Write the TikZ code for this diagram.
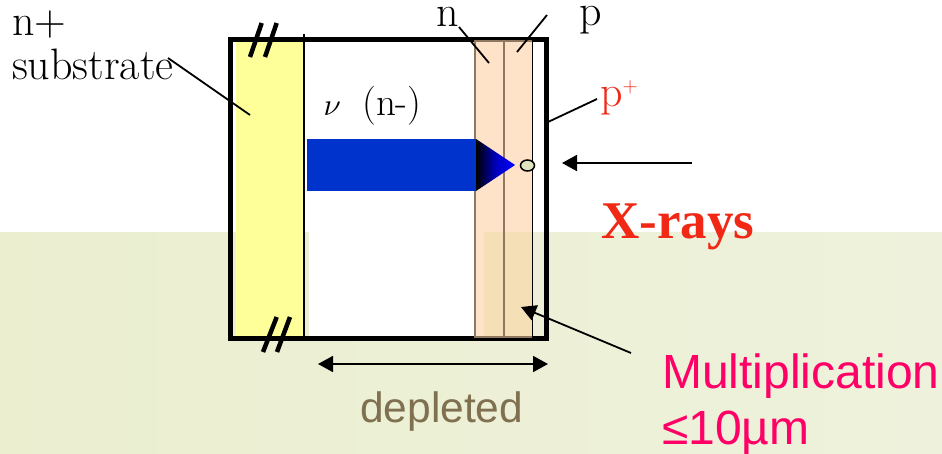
\documentclass[tikz,border=0pt]{standalone}
\usepackage{fontspec}
\usepackage{xcolor}
\usetikzlibrary{arrows.meta, shapes.geometric}
\newfontfamily\labelsans{Liberation Sans}
\newfontfamily\labelserif{Liberation Serif}
\definecolor{bgoliveb}{HTML}{EBEECF}
\definecolor{bgolivec}{HTML}{EEF2DC}
\definecolor{subyellow}{HTML}{FFFF99}
\definecolor{layerpeach}{HTML}{FFE3C8}
\definecolor{layertan}{HTML}{F4DFB6}
\definecolor{layerbrown}{HTML}{8F7860}
\definecolor{driftblue}{HTML}{0033CC}
\definecolor{xred}{HTML}{F02815}
\definecolor{multpink}{HTML}{FF0066}
\definecolor{depbrown}{HTML}{7F7050}
\definecolor{dotfill}{HTML}{E0E4C0}
\tikzset{
  serlabel/.style={anchor=base west, inner sep=0pt, font=\fontsize{44}{52}\selectfont},
  leader/.style={black, line width=1.8pt},
  tiparrow/.style={black, line width=1.8pt, -{Triangle[length=15pt,width=16pt]}},
  slash/.style={black, line width=4.5pt},
  layerline/.style={layerbrown, line width=2pt}
}
\begin{document}
\begin{tikzpicture}[x=1pt, y=-1pt]
  \useasboundingbox (0,0) rectangle (942,453);
  % background
  \fill[white] (0,0) rectangle (942,453);
  \shade[left color=bgoliveb, right color=bgolivec] (0,232) rectangle (942,453);
  % layers
  \fill[white] (303,38) rectangle (474,232);
  \fill[white] (309,232) rectangle (484,338);
  \fill[subyellow] (236,40) rectangle (303,338);
  \fill[layerpeach] (474,39) rectangle (532,338);
  \fill[layertan] (484,232) rectangle (532,338);
  \draw[layerline] (474.5,39) -- (474.5,338);
  \draw[layerline] (503.5,39) -- (503.5,338);
  \draw[black, line width=1.5pt] (532.5,39) -- (532.5,338);
  \draw[black, line width=2pt] (303.5,34) -- (303.5,336);
  % drift arrow
  \fill[driftblue] (307,139) rectangle (476,191);
  \shade[left color=black, right color=blue, middle color=blue!75!black] (476,139) -- (515,165) -- (476,191) -- cycle;
  \node[draw=black, fill=dotfill, line width=1.5pt, ellipse, minimum width=14pt, minimum height=11pt, inner sep=0pt] (hole) at (527.5,165.5) {};
  % frame
  \draw[black, line width=5pt] (230.5,39.5) rectangle (546.5,338.5);
  \draw[layerbrown, line width=2.5pt] (474,40.8) -- (532,40.8) (474,337) -- (532,337);
  % break marks
  \draw[slash] (261.7,23) -- (250,57);
  \draw[slash] (276.7,23) -- (265,57);
  \draw[slash] (276.7,317) -- (263,352);
  \draw[slash] (290,317) -- (277,352);
  % labels
  \node[serlabel] (nplus) at (12,35) {n+};
  \node[serlabel] (substrate) at (12,79) {substrate};
  \node[serlabel] (nlayer) at (436,26) {n};
  \node[serlabel] (player) at (579,25) {p};
  \node[serlabel, text=xred] (pplus) at (600,106) {p\raisebox{14pt}{\fontsize{21}{24}\selectfont +}};
  \node[anchor=base west, inner sep=0pt, scale=3.1] (nu) at (323,115) {$\nu$};
  \node[anchor=base west, inner sep=0pt, font=\fontsize{39}{44}\selectfont] (nminus) at (362,115) {(n-)};
  \node[anchor=base west, inner sep=0pt, text=xred, font=\labelserif\bfseries\fontsize{53}{60}\selectfont] (xrays) at (601,238) {X-rays};
  \node[anchor=base west, inner sep=0pt, text=depbrown, font=\labelsans\fontsize{42.5}{48}\selectfont] (depleted) at (360,422) {depleted};
  \node[anchor=base west, inner sep=0pt, text=multpink, font=\labelsans\fontsize{48}{54}\selectfont] (mult) at (662,388) {Multiplication};
  \node[anchor=base west, inner sep=0pt, text=multpink, font=\labelsans\fontsize{48}{54}\selectfont] (micron) at (662,444) {≤10µm};
  % leaders
  \coordinate (subend) at (250,115);
  \coordinate (subtop) at (168,58);
  \coordinate (ntop) at (459,27);
  \coordinate (nend) at (489,63);
  \coordinate (ptop) at (547,15);
  \coordinate (pend) at (517,52);
  \coordinate (ppfrom) at (597,99);
  \coordinate (ppend) at (548,122);
  \coordinate (xfrom) at (692,163);
  \coordinate (xend) at (562,163);
  \coordinate (mfrom) at (631,353);
  \coordinate (mend) at (521,307);
  \coordinate (depl) at (318,364);
  \coordinate (depr) at (548,364);
  \draw[leader] (subtop) -- (subend);
  \draw[leader] (ntop) -- (nend);
  \draw[leader] (ptop) -- (pend);
  \draw[leader] (ppfrom) -- (ppend);
  \draw[tiparrow] (xfrom) -- (xend);
  \draw[tiparrow] (mfrom) -- (mend);
  \draw[tiparrow, {Triangle[length=15pt,width=16pt]}-{Triangle[length=15pt,width=16pt]}] (depl) -- (depr);
\end{tikzpicture}
\end{document}
